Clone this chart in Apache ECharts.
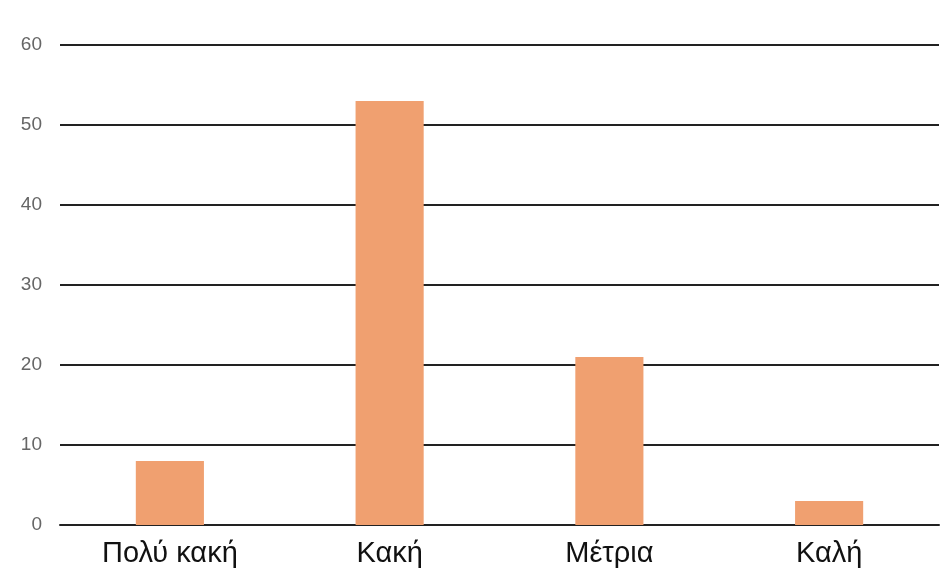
<!DOCTYPE html>
<html>
<head>
<meta charset="utf-8">
<script src="https://cdn.jsdelivr.net/npm/echarts@6/dist/echarts.min.js"></script>
<style>html,body{margin:0;padding:0;background:#fff;}#c{width:949px;height:568px;}</style>
</head>
<body>
<div id="c"></div>
<script>
const categories = ["Πολύ κακή", "Κακή", "Μέτρια", "Καλή"];
const values = [8, 53, 21, 3];
const yTicks = [0, 10, 20, 30, 40, 50, 60];

const chart = echarts.init(document.getElementById('c'));
chart.setOption({
  animation: false,
  grid: { left: 60, right: 10, top: 45, bottom: 43, containLabel: false },
  xAxis: {
    type: 'category',
    data: categories,
    axisTick: { show: false },
    axisLine: { show: true, lineStyle: { color: '#222', width: 2 } },
    axisLabel: { color: '#111', fontSize: 29, fontFamily: '"Liberation Sans", Arial, sans-serif', margin: 14 }
  },
  yAxis: {
    type: 'value',
    min: yTicks[0],
    max: yTicks[yTicks.length - 1],
    interval: 10,
    axisLine: { show: false },
    axisTick: { show: false },
    splitLine: { lineStyle: { color: '#222', width: 2 } },
    axisLabel: { color: '#666', fontSize: 19, fontFamily: '"Liberation Sans", Arial, sans-serif', margin: 18 }
  },
  series: [{
    type: 'bar',
    data: values,
    barWidth: '31%',
    itemStyle: { color: '#F0A070' },
    z: 3
  }]
});
</script>
</body>
</html>
